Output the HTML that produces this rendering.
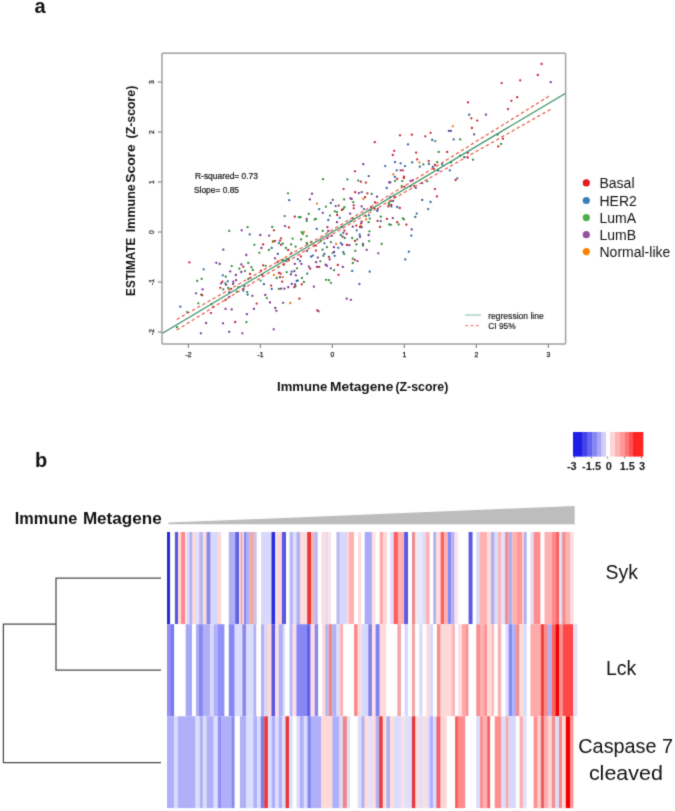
<!DOCTYPE html><html><head><meta charset="utf-8"><style>html,body{margin:0;padding:0;background:#fff;}svg{display:block;}</style></head><body><svg width="675" height="811" viewBox="0 0 675 811" font-family='"Liberation Sans", sans-serif'>
<defs><filter id="bl" x="0" y="0" width="1" height="1" color-interpolation-filters="sRGB"><feConvolveMatrix order="3" kernelMatrix="0.0192 0.1001 0.0192 0.1001 0.5228 0.1001 0.0192 0.1001 0.0192" edgeMode="duplicate"/></filter></defs>
<g filter="url(#bl)">
<rect width="675" height="811" fill="#fff"/>
<text x="34.5" y="13" font-size="20" font-weight="bold" fill="#111">a</text>
<text x="35" y="467" font-size="20" font-weight="bold" fill="#111">b</text>
<circle cx="229.2" cy="230.9" r="1.15" fill="#2f8c38"/>
<circle cx="223.3" cy="249.7" r="1.15" fill="#76308e"/>
<circle cx="189.4" cy="262.4" r="1.15" fill="#c81e2a"/>
<circle cx="216.3" cy="262.8" r="1.15" fill="#76308e"/>
<circle cx="219.7" cy="263.9" r="1.15" fill="#76308e"/>
<circle cx="231.7" cy="266.1" r="1.15" fill="#2f8c38"/>
<circle cx="203.6" cy="269.3" r="1.15" fill="#2a62a0"/>
<circle cx="230.2" cy="271.4" r="1.15" fill="#76308e"/>
<circle cx="239.4" cy="268.7" r="1.15" fill="#2f8c38"/>
<circle cx="222.8" cy="275.3" r="1.15" fill="#2a62a0"/>
<circle cx="225.8" cy="276.7" r="1.15" fill="#2f8c38"/>
<circle cx="235.8" cy="275.0" r="1.15" fill="#76308e"/>
<circle cx="201.7" cy="278.9" r="1.15" fill="#2f8c38"/>
<circle cx="197.2" cy="280.9" r="1.15" fill="#2f8c38"/>
<circle cx="222.4" cy="281.7" r="1.15" fill="#c81e2a"/>
<circle cx="221.1" cy="283.3" r="1.15" fill="#76308e"/>
<circle cx="227.8" cy="281.3" r="1.15" fill="#2a62a0"/>
<circle cx="225.3" cy="283.3" r="1.15" fill="#2f8c38"/>
<circle cx="226.1" cy="284.8" r="1.15" fill="#76308e"/>
<circle cx="233.3" cy="281.7" r="1.15" fill="#76308e"/>
<circle cx="236.1" cy="280.2" r="1.15" fill="#76308e"/>
<circle cx="233.1" cy="283.9" r="1.15" fill="#76308e"/>
<circle cx="220.3" cy="287.8" r="1.15" fill="#c81e2a"/>
<circle cx="202.6" cy="289.4" r="1.15" fill="#76308e"/>
<circle cx="228.3" cy="288.0" r="1.15" fill="#2f8c38"/>
<circle cx="231.1" cy="288.9" r="1.15" fill="#c81e2a"/>
<circle cx="238.3" cy="287.2" r="1.15" fill="#2f8c38"/>
<circle cx="223.3" cy="289.4" r="1.15" fill="#2f8c38"/>
<circle cx="196.1" cy="293.3" r="1.15" fill="#76308e"/>
<circle cx="201.1" cy="294.7" r="1.15" fill="#2f8c38"/>
<circle cx="202.2" cy="295.2" r="1.15" fill="#c81e2a"/>
<circle cx="229.4" cy="292.2" r="1.15" fill="#76308e"/>
<circle cx="236.7" cy="291.7" r="1.15" fill="#2f8c38"/>
<circle cx="229.4" cy="296.9" r="1.15" fill="#76308e"/>
<circle cx="225.6" cy="299.8" r="1.15" fill="#c81e2a"/>
<circle cx="180.3" cy="306.7" r="1.15" fill="#2a62a0"/>
<circle cx="198.3" cy="303.3" r="1.15" fill="#2f8c38"/>
<circle cx="211.4" cy="304.2" r="1.15" fill="#2f8c38"/>
<circle cx="213.3" cy="306.9" r="1.15" fill="#c81e2a"/>
<circle cx="187.2" cy="312.2" r="1.15" fill="#2f8c38"/>
<circle cx="210.9" cy="313.1" r="1.15" fill="#c81e2a"/>
<circle cx="225.6" cy="308.9" r="1.15" fill="#76308e"/>
<circle cx="231.7" cy="309.4" r="1.15" fill="#76308e"/>
<circle cx="235.2" cy="322.0" r="1.15" fill="#c81e2a"/>
<circle cx="206.1" cy="323.0" r="1.15" fill="#76308e"/>
<circle cx="223.0" cy="323.3" r="1.15" fill="#76308e"/>
<circle cx="176.9" cy="327.2" r="1.15" fill="#2f8c38"/>
<circle cx="200.9" cy="333.3" r="1.15" fill="#76308e"/>
<circle cx="229.2" cy="331.8" r="1.15" fill="#76308e"/>
<circle cx="241.7" cy="230.3" r="1.15" fill="#76308e"/>
<circle cx="273.9" cy="230.3" r="1.15" fill="#c81e2a"/>
<circle cx="249.7" cy="234.4" r="1.15" fill="#2a62a0"/>
<circle cx="260.3" cy="235.0" r="1.15" fill="#76308e"/>
<circle cx="269.2" cy="235.6" r="1.15" fill="#76308e"/>
<circle cx="301.7" cy="232.2" r="1.15" fill="#2f8c38"/>
<circle cx="303.9" cy="232.0" r="1.15" fill="#ec7418"/>
<circle cx="302.8" cy="233.9" r="1.15" fill="#2f8c38"/>
<circle cx="306.7" cy="236.1" r="1.15" fill="#2f8c38"/>
<circle cx="281.1" cy="238.3" r="1.15" fill="#c81e2a"/>
<circle cx="280.0" cy="240.6" r="1.15" fill="#c81e2a"/>
<circle cx="272.8" cy="242.0" r="1.15" fill="#ec7418"/>
<circle cx="273.3" cy="241.1" r="1.15" fill="#2f8c38"/>
<circle cx="275.0" cy="241.1" r="1.15" fill="#c81e2a"/>
<circle cx="292.6" cy="238.7" r="1.15" fill="#2f8c38"/>
<circle cx="301.1" cy="239.4" r="1.15" fill="#2f8c38"/>
<circle cx="278.9" cy="243.1" r="1.15" fill="#2a62a0"/>
<circle cx="280.9" cy="244.8" r="1.15" fill="#c81e2a"/>
<circle cx="282.8" cy="243.7" r="1.15" fill="#2f8c38"/>
<circle cx="254.4" cy="244.8" r="1.15" fill="#2f8c38"/>
<circle cx="263.1" cy="244.4" r="1.15" fill="#c81e2a"/>
<circle cx="291.1" cy="244.4" r="1.15" fill="#2f8c38"/>
<circle cx="295.6" cy="246.7" r="1.15" fill="#2f8c38"/>
<circle cx="306.7" cy="242.8" r="1.15" fill="#2f8c38"/>
<circle cx="307.2" cy="244.2" r="1.15" fill="#2f8c38"/>
<circle cx="311.1" cy="242.0" r="1.15" fill="#2f8c38"/>
<circle cx="261.4" cy="248.0" r="1.15" fill="#76308e"/>
<circle cx="268.9" cy="250.0" r="1.15" fill="#2f8c38"/>
<circle cx="271.7" cy="248.0" r="1.15" fill="#2a62a0"/>
<circle cx="285.8" cy="248.0" r="1.15" fill="#2f8c38"/>
<circle cx="288.1" cy="250.0" r="1.15" fill="#c81e2a"/>
<circle cx="307.0" cy="250.8" r="1.15" fill="#76308e"/>
<circle cx="314.2" cy="245.6" r="1.15" fill="#c81e2a"/>
<circle cx="259.4" cy="252.8" r="1.15" fill="#2f8c38"/>
<circle cx="277.8" cy="253.9" r="1.15" fill="#2a62a0"/>
<circle cx="291.3" cy="253.1" r="1.15" fill="#c81e2a"/>
<circle cx="246.3" cy="255.0" r="1.15" fill="#76308e"/>
<circle cx="300.9" cy="256.4" r="1.15" fill="#c81e2a"/>
<circle cx="311.1" cy="256.7" r="1.15" fill="#2a62a0"/>
<circle cx="312.8" cy="255.6" r="1.15" fill="#2a62a0"/>
<circle cx="275.0" cy="258.3" r="1.15" fill="#76308e"/>
<circle cx="277.8" cy="261.7" r="1.15" fill="#c81e2a"/>
<circle cx="282.8" cy="260.0" r="1.15" fill="#2f8c38"/>
<circle cx="285.8" cy="261.1" r="1.15" fill="#2a62a0"/>
<circle cx="287.2" cy="259.1" r="1.15" fill="#2f8c38"/>
<circle cx="288.9" cy="259.8" r="1.15" fill="#c81e2a"/>
<circle cx="297.8" cy="259.1" r="1.15" fill="#76308e"/>
<circle cx="300.0" cy="261.1" r="1.15" fill="#2a62a0"/>
<circle cx="248.3" cy="263.0" r="1.15" fill="#2f8c38"/>
<circle cx="294.8" cy="263.9" r="1.15" fill="#76308e"/>
<circle cx="301.4" cy="263.9" r="1.15" fill="#76308e"/>
<circle cx="241.3" cy="264.4" r="1.15" fill="#76308e"/>
<circle cx="243.3" cy="266.7" r="1.15" fill="#c81e2a"/>
<circle cx="263.1" cy="265.3" r="1.15" fill="#c81e2a"/>
<circle cx="265.6" cy="265.8" r="1.15" fill="#2f8c38"/>
<circle cx="251.4" cy="267.2" r="1.15" fill="#2f8c38"/>
<circle cx="283.9" cy="264.7" r="1.15" fill="#c81e2a"/>
<circle cx="278.3" cy="267.2" r="1.15" fill="#2f8c38"/>
<circle cx="308.9" cy="266.7" r="1.15" fill="#76308e"/>
<circle cx="310.2" cy="268.7" r="1.15" fill="#c81e2a"/>
<circle cx="297.0" cy="268.3" r="1.15" fill="#2f8c38"/>
<circle cx="252.8" cy="270.0" r="1.15" fill="#2f8c38"/>
<circle cx="241.3" cy="272.0" r="1.15" fill="#76308e"/>
<circle cx="245.0" cy="271.1" r="1.15" fill="#2f8c38"/>
<circle cx="250.0" cy="273.9" r="1.15" fill="#c81e2a"/>
<circle cx="261.1" cy="270.6" r="1.15" fill="#c81e2a"/>
<circle cx="278.9" cy="272.8" r="1.15" fill="#c81e2a"/>
<circle cx="280.6" cy="273.7" r="1.15" fill="#c81e2a"/>
<circle cx="273.9" cy="275.0" r="1.15" fill="#ec7418"/>
<circle cx="286.7" cy="272.2" r="1.15" fill="#2f8c38"/>
<circle cx="291.7" cy="271.7" r="1.15" fill="#2a62a0"/>
<circle cx="294.4" cy="271.1" r="1.15" fill="#76308e"/>
<circle cx="290.9" cy="274.4" r="1.15" fill="#76308e"/>
<circle cx="295.9" cy="275.3" r="1.15" fill="#76308e"/>
<circle cx="307.2" cy="273.7" r="1.15" fill="#2f8c38"/>
<circle cx="262.2" cy="275.0" r="1.15" fill="#c81e2a"/>
<circle cx="276.7" cy="278.0" r="1.15" fill="#2f8c38"/>
<circle cx="280.0" cy="277.2" r="1.15" fill="#76308e"/>
<circle cx="282.8" cy="277.2" r="1.15" fill="#ec7418"/>
<circle cx="250.6" cy="277.8" r="1.15" fill="#76308e"/>
<circle cx="248.3" cy="278.9" r="1.15" fill="#2f8c38"/>
<circle cx="260.6" cy="280.6" r="1.15" fill="#2f8c38"/>
<circle cx="282.2" cy="281.7" r="1.15" fill="#c81e2a"/>
<circle cx="302.0" cy="278.0" r="1.15" fill="#2f8c38"/>
<circle cx="296.7" cy="280.9" r="1.15" fill="#2a62a0"/>
<circle cx="297.8" cy="280.6" r="1.15" fill="#2a62a0"/>
<circle cx="303.9" cy="282.0" r="1.15" fill="#2f8c38"/>
<circle cx="263.9" cy="284.2" r="1.15" fill="#2a62a0"/>
<circle cx="291.7" cy="283.9" r="1.15" fill="#76308e"/>
<circle cx="271.1" cy="285.6" r="1.15" fill="#c81e2a"/>
<circle cx="295.0" cy="284.4" r="1.15" fill="#76308e"/>
<circle cx="301.7" cy="284.4" r="1.15" fill="#c81e2a"/>
<circle cx="295.6" cy="286.1" r="1.15" fill="#2f8c38"/>
<circle cx="294.4" cy="287.2" r="1.15" fill="#c81e2a"/>
<circle cx="288.3" cy="287.2" r="1.15" fill="#76308e"/>
<circle cx="244.4" cy="286.1" r="1.15" fill="#2a62a0"/>
<circle cx="284.4" cy="288.7" r="1.15" fill="#76308e"/>
<circle cx="281.1" cy="288.7" r="1.15" fill="#76308e"/>
<circle cx="278.9" cy="288.9" r="1.15" fill="#2f8c38"/>
<circle cx="271.7" cy="288.9" r="1.15" fill="#2a62a0"/>
<circle cx="313.9" cy="286.7" r="1.15" fill="#76308e"/>
<circle cx="243.3" cy="288.9" r="1.15" fill="#76308e"/>
<circle cx="243.3" cy="290.6" r="1.15" fill="#2a62a0"/>
<circle cx="247.2" cy="292.2" r="1.15" fill="#2f8c38"/>
<circle cx="247.6" cy="294.7" r="1.15" fill="#2a62a0"/>
<circle cx="252.4" cy="295.8" r="1.15" fill="#76308e"/>
<circle cx="265.3" cy="295.0" r="1.15" fill="#76308e"/>
<circle cx="266.9" cy="298.1" r="1.15" fill="#2f8c38"/>
<circle cx="299.4" cy="298.7" r="1.15" fill="#c81e2a"/>
<circle cx="256.7" cy="303.6" r="1.15" fill="#c81e2a"/>
<circle cx="270.0" cy="302.4" r="1.15" fill="#76308e"/>
<circle cx="283.1" cy="302.8" r="1.15" fill="#76308e"/>
<circle cx="290.3" cy="303.0" r="1.15" fill="#ec7418"/>
<circle cx="253.9" cy="308.9" r="1.15" fill="#76308e"/>
<circle cx="275.3" cy="308.0" r="1.15" fill="#76308e"/>
<circle cx="276.4" cy="310.8" r="1.15" fill="#76308e"/>
<circle cx="246.9" cy="314.2" r="1.15" fill="#76308e"/>
<circle cx="246.4" cy="322.2" r="1.15" fill="#2f8c38"/>
<circle cx="273.7" cy="329.3" r="1.15" fill="#76308e"/>
<circle cx="242.4" cy="333.3" r="1.15" fill="#76308e"/>
<circle cx="288.0" cy="193.3" r="1.15" fill="#2f8c38"/>
<circle cx="312.0" cy="193.7" r="1.15" fill="#76308e"/>
<circle cx="289.2" cy="200.2" r="1.15" fill="#2a62a0"/>
<circle cx="309.8" cy="199.4" r="1.15" fill="#76308e"/>
<circle cx="284.7" cy="216.1" r="1.15" fill="#2f8c38"/>
<circle cx="294.8" cy="216.7" r="1.15" fill="#c81e2a"/>
<circle cx="298.9" cy="217.2" r="1.15" fill="#2f8c38"/>
<circle cx="300.6" cy="217.2" r="1.15" fill="#2f8c38"/>
<circle cx="308.7" cy="213.9" r="1.15" fill="#2f8c38"/>
<circle cx="306.7" cy="218.9" r="1.15" fill="#76308e"/>
<circle cx="306.7" cy="221.1" r="1.15" fill="#2f8c38"/>
<circle cx="314.7" cy="219.4" r="1.15" fill="#2f8c38"/>
<circle cx="247.6" cy="227.2" r="1.15" fill="#2f8c38"/>
<circle cx="272.2" cy="226.9" r="1.15" fill="#2f8c38"/>
<circle cx="285.0" cy="226.1" r="1.15" fill="#76308e"/>
<circle cx="288.9" cy="227.4" r="1.15" fill="#c81e2a"/>
<circle cx="322.8" cy="230.9" r="1.15" fill="#2f8c38"/>
<circle cx="328.3" cy="230.9" r="1.15" fill="#76308e"/>
<circle cx="356.7" cy="230.3" r="1.15" fill="#2a62a0"/>
<circle cx="344.4" cy="230.6" r="1.15" fill="#c81e2a"/>
<circle cx="369.4" cy="231.3" r="1.15" fill="#2f8c38"/>
<circle cx="343.3" cy="232.8" r="1.15" fill="#2a62a0"/>
<circle cx="346.7" cy="233.9" r="1.15" fill="#c81e2a"/>
<circle cx="331.7" cy="235.8" r="1.15" fill="#76308e"/>
<circle cx="340.8" cy="235.0" r="1.15" fill="#2f8c38"/>
<circle cx="342.6" cy="236.7" r="1.15" fill="#76308e"/>
<circle cx="344.8" cy="238.0" r="1.15" fill="#2f8c38"/>
<circle cx="359.7" cy="234.7" r="1.15" fill="#2a62a0"/>
<circle cx="360.0" cy="236.9" r="1.15" fill="#76308e"/>
<circle cx="368.6" cy="235.0" r="1.15" fill="#76308e"/>
<circle cx="352.2" cy="238.0" r="1.15" fill="#2f8c38"/>
<circle cx="327.2" cy="238.0" r="1.15" fill="#76308e"/>
<circle cx="320.8" cy="241.1" r="1.15" fill="#2f8c38"/>
<circle cx="355.0" cy="240.9" r="1.15" fill="#c81e2a"/>
<circle cx="357.2" cy="239.4" r="1.15" fill="#2f8c38"/>
<circle cx="369.1" cy="241.1" r="1.15" fill="#2f8c38"/>
<circle cx="381.7" cy="243.9" r="1.15" fill="#2f8c38"/>
<circle cx="324.4" cy="243.3" r="1.15" fill="#2a62a0"/>
<circle cx="330.9" cy="242.2" r="1.15" fill="#2f8c38"/>
<circle cx="336.1" cy="243.9" r="1.15" fill="#ec7418"/>
<circle cx="340.8" cy="243.1" r="1.15" fill="#2a62a0"/>
<circle cx="342.2" cy="244.7" r="1.15" fill="#76308e"/>
<circle cx="347.0" cy="245.0" r="1.15" fill="#c81e2a"/>
<circle cx="349.4" cy="245.2" r="1.15" fill="#76308e"/>
<circle cx="356.4" cy="244.4" r="1.15" fill="#2f8c38"/>
<circle cx="363.0" cy="243.9" r="1.15" fill="#76308e"/>
<circle cx="363.0" cy="245.6" r="1.15" fill="#2f8c38"/>
<circle cx="315.9" cy="245.6" r="1.15" fill="#c81e2a"/>
<circle cx="327.0" cy="247.2" r="1.15" fill="#2f8c38"/>
<circle cx="333.9" cy="247.2" r="1.15" fill="#76308e"/>
<circle cx="338.3" cy="247.8" r="1.15" fill="#2a62a0"/>
<circle cx="315.9" cy="250.6" r="1.15" fill="#c81e2a"/>
<circle cx="322.6" cy="249.7" r="1.15" fill="#2f8c38"/>
<circle cx="355.3" cy="250.8" r="1.15" fill="#2f8c38"/>
<circle cx="366.7" cy="249.8" r="1.15" fill="#76308e"/>
<circle cx="378.3" cy="253.3" r="1.15" fill="#76308e"/>
<circle cx="332.6" cy="252.8" r="1.15" fill="#2f8c38"/>
<circle cx="334.1" cy="252.0" r="1.15" fill="#76308e"/>
<circle cx="343.3" cy="252.2" r="1.15" fill="#2a62a0"/>
<circle cx="344.1" cy="254.1" r="1.15" fill="#2f8c38"/>
<circle cx="324.4" cy="253.9" r="1.15" fill="#2a62a0"/>
<circle cx="323.3" cy="255.8" r="1.15" fill="#2f8c38"/>
<circle cx="334.7" cy="255.8" r="1.15" fill="#2a62a0"/>
<circle cx="328.9" cy="256.9" r="1.15" fill="#c81e2a"/>
<circle cx="329.7" cy="259.4" r="1.15" fill="#76308e"/>
<circle cx="317.8" cy="257.6" r="1.15" fill="#76308e"/>
<circle cx="352.8" cy="258.7" r="1.15" fill="#2f8c38"/>
<circle cx="354.8" cy="259.8" r="1.15" fill="#c81e2a"/>
<circle cx="357.4" cy="261.1" r="1.15" fill="#76308e"/>
<circle cx="316.1" cy="262.2" r="1.15" fill="#76308e"/>
<circle cx="320.3" cy="261.3" r="1.15" fill="#2f8c38"/>
<circle cx="352.8" cy="263.0" r="1.15" fill="#2f8c38"/>
<circle cx="325.6" cy="264.7" r="1.15" fill="#76308e"/>
<circle cx="327.0" cy="265.8" r="1.15" fill="#76308e"/>
<circle cx="337.8" cy="265.0" r="1.15" fill="#c81e2a"/>
<circle cx="342.8" cy="266.9" r="1.15" fill="#76308e"/>
<circle cx="317.0" cy="266.9" r="1.15" fill="#76308e"/>
<circle cx="319.2" cy="266.9" r="1.15" fill="#c81e2a"/>
<circle cx="330.8" cy="268.3" r="1.15" fill="#76308e"/>
<circle cx="334.1" cy="270.2" r="1.15" fill="#2f8c38"/>
<circle cx="352.2" cy="270.9" r="1.15" fill="#2a62a0"/>
<circle cx="369.7" cy="271.7" r="1.15" fill="#2a62a0"/>
<circle cx="338.6" cy="274.8" r="1.15" fill="#c81e2a"/>
<circle cx="326.1" cy="279.8" r="1.15" fill="#2f8c38"/>
<circle cx="328.9" cy="280.2" r="1.15" fill="#2f8c38"/>
<circle cx="330.9" cy="282.8" r="1.15" fill="#2f8c38"/>
<circle cx="359.4" cy="284.1" r="1.15" fill="#76308e"/>
<circle cx="355.0" cy="171.3" r="1.15" fill="#c81e2a"/>
<circle cx="368.7" cy="176.1" r="1.15" fill="#2a62a0"/>
<circle cx="323.0" cy="179.2" r="1.15" fill="#2f8c38"/>
<circle cx="347.4" cy="179.4" r="1.15" fill="#2f8c38"/>
<circle cx="358.1" cy="180.6" r="1.15" fill="#2f8c38"/>
<circle cx="360.8" cy="181.7" r="1.15" fill="#c81e2a"/>
<circle cx="365.9" cy="182.6" r="1.15" fill="#c81e2a"/>
<circle cx="389.2" cy="182.4" r="1.15" fill="#76308e"/>
<circle cx="386.7" cy="188.0" r="1.15" fill="#2a62a0"/>
<circle cx="343.6" cy="189.1" r="1.15" fill="#c81e2a"/>
<circle cx="355.2" cy="192.2" r="1.15" fill="#c81e2a"/>
<circle cx="358.9" cy="193.1" r="1.15" fill="#76308e"/>
<circle cx="361.7" cy="192.2" r="1.15" fill="#2a62a0"/>
<circle cx="367.4" cy="193.3" r="1.15" fill="#c81e2a"/>
<circle cx="371.7" cy="193.9" r="1.15" fill="#2f8c38"/>
<circle cx="377.0" cy="196.7" r="1.15" fill="#76308e"/>
<circle cx="365.0" cy="197.2" r="1.15" fill="#c81e2a"/>
<circle cx="363.3" cy="198.9" r="1.15" fill="#ec7418"/>
<circle cx="350.3" cy="198.3" r="1.15" fill="#76308e"/>
<circle cx="351.7" cy="198.9" r="1.15" fill="#76308e"/>
<circle cx="332.8" cy="199.8" r="1.15" fill="#76308e"/>
<circle cx="344.1" cy="199.4" r="1.15" fill="#2f8c38"/>
<circle cx="317.0" cy="203.6" r="1.15" fill="#ec7418"/>
<circle cx="330.8" cy="203.0" r="1.15" fill="#2a62a0"/>
<circle cx="353.3" cy="202.2" r="1.15" fill="#2f8c38"/>
<circle cx="375.0" cy="202.4" r="1.15" fill="#c81e2a"/>
<circle cx="388.9" cy="202.8" r="1.15" fill="#2f8c38"/>
<circle cx="388.9" cy="204.7" r="1.15" fill="#2f8c38"/>
<circle cx="388.3" cy="206.4" r="1.15" fill="#c81e2a"/>
<circle cx="353.7" cy="205.3" r="1.15" fill="#c81e2a"/>
<circle cx="353.7" cy="208.3" r="1.15" fill="#c81e2a"/>
<circle cx="325.9" cy="206.7" r="1.15" fill="#2f8c38"/>
<circle cx="335.6" cy="206.1" r="1.15" fill="#2a62a0"/>
<circle cx="338.7" cy="205.6" r="1.15" fill="#c81e2a"/>
<circle cx="344.4" cy="207.2" r="1.15" fill="#2f8c38"/>
<circle cx="343.3" cy="208.9" r="1.15" fill="#2f8c38"/>
<circle cx="341.9" cy="210.0" r="1.15" fill="#c81e2a"/>
<circle cx="361.7" cy="206.4" r="1.15" fill="#76308e"/>
<circle cx="371.1" cy="207.2" r="1.15" fill="#c81e2a"/>
<circle cx="374.4" cy="208.3" r="1.15" fill="#c81e2a"/>
<circle cx="363.9" cy="209.1" r="1.15" fill="#2a62a0"/>
<circle cx="370.6" cy="210.0" r="1.15" fill="#2a62a0"/>
<circle cx="377.8" cy="209.1" r="1.15" fill="#76308e"/>
<circle cx="377.2" cy="210.9" r="1.15" fill="#2a62a0"/>
<circle cx="319.2" cy="209.1" r="1.15" fill="#2a62a0"/>
<circle cx="322.8" cy="212.8" r="1.15" fill="#76308e"/>
<circle cx="334.8" cy="211.3" r="1.15" fill="#2f8c38"/>
<circle cx="337.0" cy="212.2" r="1.15" fill="#2f8c38"/>
<circle cx="337.2" cy="215.0" r="1.15" fill="#c81e2a"/>
<circle cx="350.2" cy="213.7" r="1.15" fill="#76308e"/>
<circle cx="368.9" cy="215.3" r="1.15" fill="#2a62a0"/>
<circle cx="380.8" cy="216.7" r="1.15" fill="#2f8c38"/>
<circle cx="365.9" cy="216.1" r="1.15" fill="#2f8c38"/>
<circle cx="366.1" cy="219.4" r="1.15" fill="#ec7418"/>
<circle cx="369.8" cy="218.6" r="1.15" fill="#2f8c38"/>
<circle cx="330.0" cy="215.6" r="1.15" fill="#2f8c38"/>
<circle cx="339.7" cy="217.8" r="1.15" fill="#2a62a0"/>
<circle cx="315.9" cy="218.9" r="1.15" fill="#2f8c38"/>
<circle cx="328.3" cy="220.0" r="1.15" fill="#2a62a0"/>
<circle cx="387.0" cy="218.9" r="1.15" fill="#c81e2a"/>
<circle cx="352.8" cy="218.3" r="1.15" fill="#2f8c38"/>
<circle cx="377.6" cy="220.9" r="1.15" fill="#c81e2a"/>
<circle cx="380.8" cy="221.1" r="1.15" fill="#2a62a0"/>
<circle cx="350.6" cy="221.3" r="1.15" fill="#2a62a0"/>
<circle cx="337.0" cy="222.2" r="1.15" fill="#76308e"/>
<circle cx="361.7" cy="221.7" r="1.15" fill="#c81e2a"/>
<circle cx="368.6" cy="222.2" r="1.15" fill="#2f8c38"/>
<circle cx="361.1" cy="223.3" r="1.15" fill="#76308e"/>
<circle cx="356.3" cy="225.6" r="1.15" fill="#c81e2a"/>
<circle cx="360.6" cy="225.6" r="1.15" fill="#ec7418"/>
<circle cx="361.7" cy="227.2" r="1.15" fill="#2a62a0"/>
<circle cx="360.0" cy="227.2" r="1.15" fill="#c81e2a"/>
<circle cx="380.0" cy="226.9" r="1.15" fill="#c81e2a"/>
<circle cx="352.8" cy="226.7" r="1.15" fill="#76308e"/>
<circle cx="327.4" cy="227.2" r="1.15" fill="#c81e2a"/>
<circle cx="341.7" cy="227.2" r="1.15" fill="#2a62a0"/>
<circle cx="316.7" cy="228.9" r="1.15" fill="#2a62a0"/>
<circle cx="389.2" cy="224.4" r="1.15" fill="#2f8c38"/>
<circle cx="346.7" cy="298.7" r="1.15" fill="#76308e"/>
<circle cx="350.9" cy="299.8" r="1.15" fill="#76308e"/>
<circle cx="317.2" cy="310.3" r="1.15" fill="#c81e2a"/>
<circle cx="318.6" cy="311.3" r="1.15" fill="#76308e"/>
<circle cx="374.8" cy="142.2" r="1.15" fill="#c81e2a"/>
<circle cx="363.3" cy="164.2" r="1.15" fill="#76308e"/>
<circle cx="385.2" cy="166.1" r="1.15" fill="#2a62a0"/>
<circle cx="396.7" cy="170.3" r="1.15" fill="#2a62a0"/>
<circle cx="400.6" cy="170.3" r="1.15" fill="#c81e2a"/>
<circle cx="402.8" cy="170.3" r="1.15" fill="#76308e"/>
<circle cx="438.3" cy="170.6" r="1.15" fill="#2a62a0"/>
<circle cx="449.8" cy="170.3" r="1.15" fill="#2a62a0"/>
<circle cx="393.3" cy="174.4" r="1.15" fill="#ec7418"/>
<circle cx="395.0" cy="176.9" r="1.15" fill="#2a62a0"/>
<circle cx="397.2" cy="178.9" r="1.15" fill="#c81e2a"/>
<circle cx="403.9" cy="176.7" r="1.15" fill="#c81e2a"/>
<circle cx="403.9" cy="178.0" r="1.15" fill="#c81e2a"/>
<circle cx="395.0" cy="180.9" r="1.15" fill="#2f8c38"/>
<circle cx="402.2" cy="181.1" r="1.15" fill="#2f8c38"/>
<circle cx="410.6" cy="180.9" r="1.15" fill="#76308e"/>
<circle cx="412.8" cy="180.2" r="1.15" fill="#76308e"/>
<circle cx="422.2" cy="183.1" r="1.15" fill="#76308e"/>
<circle cx="427.2" cy="181.3" r="1.15" fill="#2f8c38"/>
<circle cx="455.6" cy="180.0" r="1.15" fill="#c81e2a"/>
<circle cx="457.4" cy="178.3" r="1.15" fill="#2a62a0"/>
<circle cx="390.3" cy="182.4" r="1.15" fill="#76308e"/>
<circle cx="401.7" cy="186.1" r="1.15" fill="#2f8c38"/>
<circle cx="404.4" cy="186.7" r="1.15" fill="#c81e2a"/>
<circle cx="410.6" cy="186.1" r="1.15" fill="#76308e"/>
<circle cx="414.2" cy="186.1" r="1.15" fill="#c81e2a"/>
<circle cx="415.8" cy="187.8" r="1.15" fill="#76308e"/>
<circle cx="435.0" cy="189.1" r="1.15" fill="#c81e2a"/>
<circle cx="390.3" cy="197.2" r="1.15" fill="#2a62a0"/>
<circle cx="394.7" cy="196.9" r="1.15" fill="#c81e2a"/>
<circle cx="390.9" cy="201.1" r="1.15" fill="#2f8c38"/>
<circle cx="393.1" cy="200.9" r="1.15" fill="#76308e"/>
<circle cx="436.9" cy="196.4" r="1.15" fill="#c81e2a"/>
<circle cx="422.2" cy="200.0" r="1.15" fill="#2a62a0"/>
<circle cx="430.6" cy="202.0" r="1.15" fill="#2a62a0"/>
<circle cx="391.3" cy="205.0" r="1.15" fill="#c81e2a"/>
<circle cx="391.3" cy="206.4" r="1.15" fill="#2a62a0"/>
<circle cx="397.2" cy="207.0" r="1.15" fill="#2a62a0"/>
<circle cx="399.8" cy="208.0" r="1.15" fill="#c81e2a"/>
<circle cx="428.1" cy="209.1" r="1.15" fill="#2a62a0"/>
<circle cx="416.7" cy="213.6" r="1.15" fill="#2a62a0"/>
<circle cx="415.3" cy="216.9" r="1.15" fill="#2a62a0"/>
<circle cx="392.8" cy="218.1" r="1.15" fill="#76308e"/>
<circle cx="402.8" cy="218.3" r="1.15" fill="#2f8c38"/>
<circle cx="403.9" cy="219.4" r="1.15" fill="#2f8c38"/>
<circle cx="397.2" cy="222.2" r="1.15" fill="#c81e2a"/>
<circle cx="398.7" cy="224.4" r="1.15" fill="#2f8c38"/>
<circle cx="390.9" cy="224.8" r="1.15" fill="#2f8c38"/>
<circle cx="406.4" cy="224.7" r="1.15" fill="#c81e2a"/>
<circle cx="411.7" cy="229.4" r="1.15" fill="#76308e"/>
<circle cx="452.8" cy="126.3" r="1.15" fill="#ec7418"/>
<circle cx="448.9" cy="130.9" r="1.15" fill="#76308e"/>
<circle cx="450.9" cy="130.9" r="1.15" fill="#2a62a0"/>
<circle cx="400.0" cy="135.3" r="1.15" fill="#c81e2a"/>
<circle cx="411.9" cy="134.7" r="1.15" fill="#c81e2a"/>
<circle cx="425.3" cy="136.3" r="1.15" fill="#c81e2a"/>
<circle cx="430.6" cy="132.8" r="1.15" fill="#c81e2a"/>
<circle cx="432.2" cy="140.0" r="1.15" fill="#2a62a0"/>
<circle cx="435.3" cy="141.1" r="1.15" fill="#2f8c38"/>
<circle cx="453.7" cy="139.4" r="1.15" fill="#2a62a0"/>
<circle cx="460.2" cy="139.4" r="1.15" fill="#2f8c38"/>
<circle cx="408.0" cy="144.4" r="1.15" fill="#2a62a0"/>
<circle cx="394.2" cy="150.8" r="1.15" fill="#c81e2a"/>
<circle cx="392.8" cy="155.0" r="1.15" fill="#c81e2a"/>
<circle cx="416.1" cy="152.6" r="1.15" fill="#c81e2a"/>
<circle cx="438.7" cy="151.9" r="1.15" fill="#2f8c38"/>
<circle cx="447.2" cy="151.9" r="1.15" fill="#c81e2a"/>
<circle cx="417.2" cy="159.4" r="1.15" fill="#c81e2a"/>
<circle cx="419.4" cy="162.4" r="1.15" fill="#ec7418"/>
<circle cx="423.3" cy="164.4" r="1.15" fill="#2f8c38"/>
<circle cx="428.7" cy="161.1" r="1.15" fill="#c81e2a"/>
<circle cx="428.9" cy="163.9" r="1.15" fill="#2a62a0"/>
<circle cx="437.2" cy="162.2" r="1.15" fill="#2f8c38"/>
<circle cx="435.0" cy="165.0" r="1.15" fill="#c81e2a"/>
<circle cx="442.2" cy="164.4" r="1.15" fill="#2a62a0"/>
<circle cx="450.9" cy="162.4" r="1.15" fill="#2f8c38"/>
<circle cx="460.2" cy="155.6" r="1.15" fill="#2f8c38"/>
<circle cx="464.2" cy="157.2" r="1.15" fill="#2a62a0"/>
<circle cx="395.0" cy="162.2" r="1.15" fill="#2a62a0"/>
<circle cx="400.6" cy="163.3" r="1.15" fill="#2a62a0"/>
<circle cx="405.0" cy="166.1" r="1.15" fill="#2a62a0"/>
<circle cx="412.2" cy="162.4" r="1.15" fill="#2a62a0"/>
<circle cx="419.8" cy="166.7" r="1.15" fill="#2a62a0"/>
<circle cx="432.8" cy="166.9" r="1.15" fill="#2a62a0"/>
<circle cx="433.9" cy="168.9" r="1.15" fill="#c81e2a"/>
<circle cx="411.3" cy="235.6" r="1.15" fill="#2a62a0"/>
<circle cx="408.9" cy="251.7" r="1.15" fill="#2a62a0"/>
<circle cx="405.3" cy="259.4" r="1.15" fill="#2a62a0"/>
<circle cx="469.2" cy="114.7" r="1.15" fill="#2a62a0"/>
<circle cx="485.9" cy="114.7" r="1.15" fill="#76308e"/>
<circle cx="471.3" cy="118.3" r="1.15" fill="#c81e2a"/>
<circle cx="477.2" cy="120.6" r="1.15" fill="#c81e2a"/>
<circle cx="471.9" cy="128.0" r="1.15" fill="#c81e2a"/>
<circle cx="474.1" cy="134.4" r="1.15" fill="#76308e"/>
<circle cx="497.6" cy="134.7" r="1.15" fill="#2f8c38"/>
<circle cx="503.0" cy="138.7" r="1.15" fill="#c81e2a"/>
<circle cx="498.3" cy="146.4" r="1.15" fill="#c81e2a"/>
<circle cx="501.1" cy="143.9" r="1.15" fill="#2f8c38"/>
<circle cx="467.8" cy="152.8" r="1.15" fill="#c81e2a"/>
<circle cx="467.8" cy="157.6" r="1.15" fill="#c81e2a"/>
<circle cx="473.0" cy="159.7" r="1.15" fill="#2f8c38"/>
<circle cx="537.8" cy="75.0" r="1.15" fill="#c81e2a"/>
<circle cx="520.2" cy="80.3" r="1.15" fill="#c81e2a"/>
<circle cx="501.7" cy="83.1" r="1.15" fill="#c81e2a"/>
<circle cx="517.2" cy="97.2" r="1.15" fill="#c81e2a"/>
<circle cx="511.4" cy="100.8" r="1.15" fill="#c81e2a"/>
<circle cx="468.0" cy="102.4" r="1.15" fill="#c81e2a"/>
<circle cx="508.0" cy="109.1" r="1.15" fill="#c81e2a"/>
<circle cx="541.6" cy="64.0" r="1.15" fill="#c81e2a"/>
<circle cx="550.7" cy="82.2" r="1.15" fill="#76308e"/>
<line x1="162.5" y1="333.2" x2="565.7" y2="93.2" stroke="#2f8a5f" stroke-width="1.1"/>
<polyline points="176.7,319.5 186.1,314.1 195.4,308.8 204.8,303.5 214.1,298.2 223.5,292.9 232.8,287.5 242.2,282.2 251.6,276.8 260.9,271.5 270.3,266.1 279.6,260.7 289.0,255.3 298.3,249.8 307.7,244.4 317.1,238.9 326.4,233.3 335.8,227.8 345.1,222.2 354.5,216.5 363.9,210.9 373.2,205.2 382.6,199.4 391.9,193.7 401.3,187.9 410.6,182.2 420.0,176.4 429.4,170.6 438.7,164.8 448.1,159.0 457.4,153.2 466.8,147.4 476.1,141.5 485.5,135.7 494.9,129.9 504.2,124.1 513.6,118.2 522.9,112.4 532.3,106.6 541.6,100.7 551.0,94.9" fill="none" stroke="#e8523e" stroke-width="1.15" stroke-dasharray="3.4,2.5"/>
<polyline points="176.7,330.0 186.1,324.2 195.4,318.4 204.8,312.6 214.1,306.7 223.5,300.9 232.8,295.1 242.2,289.3 251.6,283.6 260.9,277.8 270.3,272.0 279.6,266.3 289.0,260.6 298.3,254.9 307.7,249.2 317.1,243.6 326.4,237.9 335.8,232.4 345.1,226.8 354.5,221.3 363.9,215.9 373.2,210.4 382.6,205.0 391.9,199.6 401.3,194.2 410.6,188.9 420.0,183.5 429.4,178.2 438.7,172.8 448.1,167.5 457.4,162.2 466.8,156.9 476.1,151.5 485.5,146.2 494.9,140.9 504.2,135.6 513.6,130.3 522.9,125.0 532.3,119.7 541.6,114.4 551.0,109.1" fill="none" stroke="#e8523e" stroke-width="1.15" stroke-dasharray="3.4,2.5"/>
<rect x="162" y="53.3" width="403.6" height="290.6" rx="0.8" fill="none" stroke="#a0a0a0" stroke-width="1.5"/>
<line x1="157.7" y1="332.0" x2="162" y2="332.0" stroke="#8a8a8a" stroke-width="1.2"/>
<text transform="translate(153.8,332.0) rotate(-90)" text-anchor="middle" font-size="6.8" fill="#1a1a1a" stroke="#1a1a1a" stroke-width="0.25">-2</text>
<line x1="157.7" y1="282.0" x2="162" y2="282.0" stroke="#8a8a8a" stroke-width="1.2"/>
<text transform="translate(153.8,282.0) rotate(-90)" text-anchor="middle" font-size="6.8" fill="#1a1a1a" stroke="#1a1a1a" stroke-width="0.25">-1</text>
<line x1="157.7" y1="232.0" x2="162" y2="232.0" stroke="#8a8a8a" stroke-width="1.2"/>
<text transform="translate(153.8,232.0) rotate(-90)" text-anchor="middle" font-size="6.8" fill="#1a1a1a" stroke="#1a1a1a" stroke-width="0.25">0</text>
<line x1="157.7" y1="182.0" x2="162" y2="182.0" stroke="#8a8a8a" stroke-width="1.2"/>
<text transform="translate(153.8,182.0) rotate(-90)" text-anchor="middle" font-size="6.8" fill="#1a1a1a" stroke="#1a1a1a" stroke-width="0.25">1</text>
<line x1="157.7" y1="132.0" x2="162" y2="132.0" stroke="#8a8a8a" stroke-width="1.2"/>
<text transform="translate(153.8,132.0) rotate(-90)" text-anchor="middle" font-size="6.8" fill="#1a1a1a" stroke="#1a1a1a" stroke-width="0.25">2</text>
<line x1="157.7" y1="82.0" x2="162" y2="82.0" stroke="#8a8a8a" stroke-width="1.2"/>
<text transform="translate(153.8,82.0) rotate(-90)" text-anchor="middle" font-size="6.8" fill="#1a1a1a" stroke="#1a1a1a" stroke-width="0.25">3</text>
<line x1="188.4" y1="344" x2="188.4" y2="347.9" stroke="#8a8a8a" stroke-width="1.2"/>
<text x="188.4" y="357.3" text-anchor="middle" font-size="6.8" fill="#1a1a1a" stroke="#1a1a1a" stroke-width="0.25">-2</text>
<line x1="260.4" y1="344" x2="260.4" y2="347.9" stroke="#8a8a8a" stroke-width="1.2"/>
<text x="260.4" y="357.3" text-anchor="middle" font-size="6.8" fill="#1a1a1a" stroke="#1a1a1a" stroke-width="0.25">-1</text>
<line x1="332.4" y1="344" x2="332.4" y2="347.9" stroke="#8a8a8a" stroke-width="1.2"/>
<text x="332.4" y="357.3" text-anchor="middle" font-size="6.8" fill="#1a1a1a" stroke="#1a1a1a" stroke-width="0.25">0</text>
<line x1="404.4" y1="344" x2="404.4" y2="347.9" stroke="#8a8a8a" stroke-width="1.2"/>
<text x="404.4" y="357.3" text-anchor="middle" font-size="6.8" fill="#1a1a1a" stroke="#1a1a1a" stroke-width="0.25">1</text>
<line x1="476.4" y1="344" x2="476.4" y2="347.9" stroke="#8a8a8a" stroke-width="1.2"/>
<text x="476.4" y="357.3" text-anchor="middle" font-size="6.8" fill="#1a1a1a" stroke="#1a1a1a" stroke-width="0.25">2</text>
<line x1="548.4" y1="344" x2="548.4" y2="347.9" stroke="#8a8a8a" stroke-width="1.2"/>
<text x="548.4" y="357.3" text-anchor="middle" font-size="6.8" fill="#1a1a1a" stroke="#1a1a1a" stroke-width="0.25">3</text>
<text x="277.0" y="390.9" font-size="13" font-weight="bold" fill="#111" textLength="50.2" lengthAdjust="spacingAndGlyphs">Immune</text>
<text x="330.1" y="390.9" font-size="13" font-weight="bold" fill="#111" textLength="63.3" lengthAdjust="spacingAndGlyphs">Metagene</text>
<text x="395.4" y="390.9" font-size="13" font-weight="bold" fill="#111" textLength="52.9" lengthAdjust="spacingAndGlyphs">(Z-score)</text>
<text transform="translate(135.4,0) rotate(-90)" x="-295.9" y="0" font-size="13" font-weight="bold" fill="#111" textLength="58.3" lengthAdjust="spacingAndGlyphs">ESTIMATE</text>
<text transform="translate(135.4,0) rotate(-90)" x="-232.2" y="0" font-size="13" font-weight="bold" fill="#111" textLength="47.9" lengthAdjust="spacingAndGlyphs">Immune</text>
<text transform="translate(135.4,0) rotate(-90)" x="-182.7" y="0" font-size="13" font-weight="bold" fill="#111" textLength="38.3" lengthAdjust="spacingAndGlyphs">Score</text>
<text transform="translate(135.4,0) rotate(-90)" x="-138.4" y="0" font-size="13" font-weight="bold" fill="#111" textLength="52.7" lengthAdjust="spacingAndGlyphs">(Z-score)</text>
<text x="195" y="178.7" font-size="8.5" fill="#111" stroke="#111" stroke-width="0.2" textLength="63" lengthAdjust="spacingAndGlyphs">R-squared= 0.73</text>
<text x="194" y="192.7" font-size="8.5" fill="#111" stroke="#111" stroke-width="0.2" textLength="45" lengthAdjust="spacingAndGlyphs">Slope= 0.85</text>
<line x1="465" y1="315" x2="481" y2="315" stroke="#8fcfb0" stroke-width="1.2"/>
<line x1="465" y1="325.6" x2="481" y2="325.6" stroke="#f08a80" stroke-width="1.2" stroke-dasharray="3,2.5"/>
<text x="488.2" y="318.8" font-size="8.5" fill="#111" stroke="#111" stroke-width="0.15" textLength="55.5" lengthAdjust="spacingAndGlyphs">regression line</text>
<text x="488.2" y="329" font-size="8.5" fill="#111" stroke="#111" stroke-width="0.15" textLength="27.5" lengthAdjust="spacingAndGlyphs">CI 95%</text>
<circle cx="586.3" cy="182.9" r="3.6" fill="#e41a1c"/>
<text x="599.5" y="188.1" font-size="14" fill="#111">Basal</text>
<circle cx="586.3" cy="200.5" r="3.6" fill="#377eb8"/>
<text x="599.5" y="205.7" font-size="14" fill="#111">HER2</text>
<circle cx="586.3" cy="217.6" r="3.6" fill="#4daf4a"/>
<text x="599.5" y="222.8" font-size="14" fill="#111">LumA</text>
<circle cx="586.3" cy="234.7" r="3.6" fill="#984ea3"/>
<text x="599.5" y="239.9" font-size="14" fill="#111">LumB</text>
<circle cx="586.3" cy="251.6" r="3.6" fill="#ff7f00"/>
<text x="599.5" y="256.8" font-size="14" fill="#111">Normal-like</text>
<text x="14.8" y="523.6" font-size="16" font-weight="bold" fill="#111" textLength="62.4" lengthAdjust="spacingAndGlyphs">Immune</text>
<text x="82.9" y="523.6" font-size="16" font-weight="bold" fill="#111" textLength="78.8" lengthAdjust="spacingAndGlyphs">Metagene</text>
<polygon points="168.5,522.6 574.7,506 574.7,524.2 168.5,524.2" fill="#bdbdbd"/>
<rect x="573" y="432" width="9.30" height="24.6" fill="#1e1ee6"/>
<rect x="582" y="432" width="5.30" height="24.6" fill="#4242ea"/>
<rect x="587" y="432" width="5.30" height="24.6" fill="#6464f0"/>
<rect x="592" y="432" width="5.30" height="24.6" fill="#8888f2"/>
<rect x="597" y="432" width="4.80" height="24.6" fill="#a8a8f6"/>
<rect x="601.5" y="432" width="4.80" height="24.6" fill="#cfcffa"/>
<rect x="606" y="432" width="4.30" height="24.6" fill="#ffffff"/>
<rect x="610" y="432" width="5.30" height="24.6" fill="#ffd4d4"/>
<rect x="615" y="432" width="5.30" height="24.6" fill="#ffb4b4"/>
<rect x="620" y="432" width="5.30" height="24.6" fill="#ff9898"/>
<rect x="625" y="432" width="4.30" height="24.6" fill="#ff7474"/>
<rect x="629" y="432" width="4.30" height="24.6" fill="#ff5050"/>
<rect x="633" y="432" width="10.30" height="24.6" fill="#ff2424"/>
<line x1="574.5" y1="456.5" x2="574.5" y2="458.5" stroke="#555" stroke-width="0.8"/>
<line x1="591.3" y1="456.5" x2="591.3" y2="458.5" stroke="#555" stroke-width="0.8"/>
<line x1="607.6" y1="456.5" x2="607.6" y2="458.5" stroke="#555" stroke-width="0.8"/>
<line x1="624.6" y1="456.5" x2="624.6" y2="458.5" stroke="#555" stroke-width="0.8"/>
<line x1="641.5" y1="456.5" x2="641.5" y2="458.5" stroke="#555" stroke-width="0.8"/>
<text x="571.8" y="470" text-anchor="middle" font-size="11" font-weight="bold" fill="#111">-3</text>
<text x="591.6" y="470" text-anchor="middle" font-size="11" font-weight="bold" fill="#111">-1.5</text>
<text x="608.7" y="470" text-anchor="middle" font-size="11" font-weight="bold" fill="#111">0</text>
<text x="627.3" y="470" text-anchor="middle" font-size="11" font-weight="bold" fill="#111">1.5</text>
<text x="642" y="470" text-anchor="middle" font-size="11" font-weight="bold" fill="#111">3</text>
<rect x="167.0" y="532" width="3.25" height="92.20" fill="#2a2ad8"/>
<rect x="170.2" y="532" width="4.75" height="92.20" fill="#ffffff"/>
<rect x="174.9" y="532" width="3.15" height="92.20" fill="#5a5ad8"/>
<rect x="178.0" y="532" width="3.15" height="92.20" fill="#ffd8d8"/>
<rect x="181.1" y="532" width="4.15" height="92.20" fill="#ff8888"/>
<rect x="185.2" y="532" width="1.65" height="92.20" fill="#ffe4e4"/>
<rect x="186.8" y="532" width="2.65" height="92.20" fill="#d8d8ff"/>
<rect x="189.4" y="532" width="3.15" height="92.20" fill="#b0b0f0"/>
<rect x="192.5" y="532" width="3.65" height="92.20" fill="#ffd8d8"/>
<rect x="196.1" y="532" width="3.15" height="92.20" fill="#e0e0ff"/>
<rect x="199.2" y="532" width="3.75" height="92.20" fill="#b8b8f0"/>
<rect x="202.9" y="532" width="3.65" height="92.20" fill="#ffdada"/>
<rect x="206.5" y="532" width="4.15" height="92.20" fill="#8888e8"/>
<rect x="210.6" y="532" width="7.35" height="92.20" fill="#d8d8fc"/>
<rect x="217.9" y="532" width="3.15" height="92.20" fill="#ffd8d8"/>
<rect x="221.0" y="532" width="7.85" height="92.20" fill="#ffffff"/>
<rect x="228.8" y="532" width="6.45" height="92.20" fill="#b0b0f4"/>
<rect x="235.2" y="532" width="3.95" height="92.20" fill="#6060e0"/>
<rect x="239.1" y="532" width="1.35" height="92.20" fill="#ffdcdc"/>
<rect x="240.4" y="532" width="2.35" height="92.20" fill="#f0a8b0"/>
<rect x="242.7" y="532" width="1.35" height="92.20" fill="#e8e0f8"/>
<rect x="244.0" y="532" width="2.65" height="92.20" fill="#8888f0"/>
<rect x="246.6" y="532" width="3.15" height="92.20" fill="#b0b0f0"/>
<rect x="249.7" y="532" width="4.75" height="92.20" fill="#f4a8a8"/>
<rect x="254.4" y="532" width="2.45" height="92.20" fill="#c0c0f0"/>
<rect x="256.8" y="532" width="4.35" height="92.20" fill="#ffffff"/>
<rect x="261.1" y="532" width="10.45" height="92.20" fill="#d8d8fc"/>
<rect x="271.5" y="532" width="3.65" height="92.20" fill="#2a2ae0"/>
<rect x="275.1" y="532" width="1.65" height="92.20" fill="#e0e0fc"/>
<rect x="276.7" y="532" width="5.25" height="92.20" fill="#ffd8d8"/>
<rect x="281.9" y="532" width="4.15" height="92.20" fill="#5858e0"/>
<rect x="286.0" y="532" width="3.65" height="92.20" fill="#ffffff"/>
<rect x="289.6" y="532" width="3.75" height="92.20" fill="#b8b8f0"/>
<rect x="293.3" y="532" width="3.15" height="92.20" fill="#e0e0fc"/>
<rect x="296.4" y="532" width="3.65" height="92.20" fill="#b0b0f0"/>
<rect x="300.0" y="532" width="7.25" height="92.20" fill="#ffdcdc"/>
<rect x="307.2" y="532" width="3.95" height="92.20" fill="#e83838"/>
<rect x="311.1" y="532" width="3.15" height="92.20" fill="#ffb0b0"/>
<rect x="314.2" y="532" width="3.65" height="92.20" fill="#b8b8f0"/>
<rect x="317.8" y="532" width="3.65" height="92.20" fill="#ffffff"/>
<rect x="321.4" y="532" width="4.25" height="92.20" fill="#ffdcdc"/>
<rect x="325.6" y="532" width="2.65" height="92.20" fill="#dcdcf8"/>
<rect x="328.2" y="532" width="3.15" height="92.20" fill="#ffe0e0"/>
<rect x="331.3" y="532" width="5.25" height="92.20" fill="#ffffff"/>
<rect x="336.5" y="532" width="3.35" height="92.20" fill="#b8b8f4"/>
<rect x="339.8" y="532" width="7.15" height="92.20" fill="#d8d8fc"/>
<rect x="346.9" y="532" width="2.05" height="92.20" fill="#ffd8d8"/>
<rect x="348.9" y="532" width="5.25" height="92.20" fill="#ffb0b0"/>
<rect x="354.1" y="532" width="3.65" height="92.20" fill="#ffffff"/>
<rect x="357.7" y="532" width="3.75" height="92.20" fill="#ffdcdc"/>
<rect x="361.4" y="532" width="3.35" height="92.20" fill="#ffffff"/>
<rect x="364.7" y="532" width="7.25" height="92.20" fill="#aaaaf8"/>
<rect x="371.9" y="532" width="3.75" height="92.20" fill="#ffe0e0"/>
<rect x="375.6" y="532" width="4.15" height="92.20" fill="#ffffff"/>
<rect x="379.7" y="532" width="3.65" height="92.20" fill="#ffaaaa"/>
<rect x="383.3" y="532" width="3.75" height="92.20" fill="#ffd8d8"/>
<rect x="387.0" y="532" width="3.15" height="92.20" fill="#ffffff"/>
<rect x="390.1" y="532" width="3.65" height="92.20" fill="#e0e0fc"/>
<rect x="393.7" y="532" width="4.25" height="92.20" fill="#ff5c5c"/>
<rect x="397.9" y="532" width="6.25" height="92.20" fill="#ffb0b0"/>
<rect x="404.1" y="532" width="4.15" height="92.20" fill="#5a5ae8"/>
<rect x="408.2" y="532" width="3.75" height="92.20" fill="#ffffff"/>
<rect x="411.9" y="532" width="3.15" height="92.20" fill="#e89090"/>
<rect x="415.0" y="532" width="1.55" height="92.20" fill="#ffdcdc"/>
<rect x="416.5" y="532" width="5.75" height="92.20" fill="#e8e8fc"/>
<rect x="422.2" y="532" width="3.75" height="92.20" fill="#dcdcf8"/>
<rect x="425.9" y="532" width="3.85" height="92.20" fill="#ffb0b0"/>
<rect x="429.7" y="532" width="3.65" height="92.20" fill="#ffffff"/>
<rect x="433.3" y="532" width="3.15" height="92.20" fill="#b0b0f0"/>
<rect x="436.4" y="532" width="4.25" height="92.20" fill="#ffdcdc"/>
<rect x="440.6" y="532" width="3.65" height="92.20" fill="#ff6060"/>
<rect x="444.2" y="532" width="3.65" height="92.20" fill="#ffb0b0"/>
<rect x="447.8" y="532" width="3.65" height="92.20" fill="#8888f8"/>
<rect x="451.4" y="532" width="3.25" height="92.20" fill="#b0b0f4"/>
<rect x="454.6" y="532" width="3.65" height="92.20" fill="#ffe0e8"/>
<rect x="458.2" y="532" width="10.45" height="92.20" fill="#ffffff"/>
<rect x="468.6" y="532" width="4.15" height="92.20" fill="#5858e4"/>
<rect x="472.7" y="532" width="3.65" height="92.20" fill="#ffffff"/>
<rect x="476.3" y="532" width="3.75" height="92.20" fill="#d8d8f8"/>
<rect x="480.0" y="532" width="7.25" height="92.20" fill="#ffb0b0"/>
<rect x="487.2" y="532" width="3.75" height="92.20" fill="#ffdcdc"/>
<rect x="490.9" y="532" width="3.85" height="92.20" fill="#b0b0f0"/>
<rect x="494.7" y="532" width="3.15" height="92.20" fill="#dcdcfc"/>
<rect x="497.8" y="532" width="3.65" height="92.20" fill="#f8b8b8"/>
<rect x="501.4" y="532" width="3.65" height="92.20" fill="#e0e0fc"/>
<rect x="505.0" y="532" width="3.75" height="92.20" fill="#f09090"/>
<rect x="508.7" y="532" width="3.65" height="92.20" fill="#b0b0f0"/>
<rect x="512.3" y="532" width="4.15" height="92.20" fill="#ffb0b0"/>
<rect x="516.4" y="532" width="5.75" height="92.20" fill="#ff9898"/>
<rect x="522.1" y="532" width="1.65" height="92.20" fill="#ffd0d0"/>
<rect x="523.7" y="532" width="3.15" height="92.20" fill="#b0b0f0"/>
<rect x="526.8" y="532" width="3.65" height="92.20" fill="#ffffff"/>
<rect x="530.4" y="532" width="3.25" height="92.20" fill="#e0dcf8"/>
<rect x="533.6" y="532" width="7.05" height="92.20" fill="#ff8c8c"/>
<rect x="540.6" y="532" width="3.95" height="92.20" fill="#ffffff"/>
<rect x="544.5" y="532" width="7.35" height="92.20" fill="#ffb0b0"/>
<rect x="551.8" y="532" width="3.65" height="92.20" fill="#ff8888"/>
<rect x="555.4" y="532" width="3.65" height="92.20" fill="#ff6060"/>
<rect x="559.0" y="532" width="3.15" height="92.20" fill="#e0e0f4"/>
<rect x="562.1" y="532" width="3.75" height="92.20" fill="#f09090"/>
<rect x="565.8" y="532" width="4.25" height="92.20" fill="#ffb0b0"/>
<rect x="570.0" y="532" width="3.65" height="92.20" fill="#ffdcdc"/>
<rect x="167.0" y="624.2" width="3.25" height="92.10" fill="#9090f0"/>
<rect x="170.2" y="624.2" width="4.15" height="92.10" fill="#7878f0"/>
<rect x="174.3" y="624.2" width="11.45" height="92.10" fill="#ffffff"/>
<rect x="185.7" y="624.2" width="6.35" height="92.10" fill="#a8a8f8"/>
<rect x="192.0" y="624.2" width="4.15" height="92.10" fill="#ffffff"/>
<rect x="196.1" y="624.2" width="2.65" height="92.10" fill="#a8a8f0"/>
<rect x="198.7" y="624.2" width="4.25" height="92.10" fill="#8888f0"/>
<rect x="202.9" y="624.2" width="7.25" height="92.10" fill="#b0b0f8"/>
<rect x="210.1" y="624.2" width="3.65" height="92.10" fill="#d8d8fc"/>
<rect x="213.7" y="624.2" width="3.75" height="92.10" fill="#b0b0f8"/>
<rect x="217.4" y="624.2" width="7.25" height="92.10" fill="#9090f8"/>
<rect x="224.6" y="624.2" width="4.25" height="92.10" fill="#ffffff"/>
<rect x="228.8" y="624.2" width="5.95" height="92.10" fill="#8888f0"/>
<rect x="234.7" y="624.2" width="7.75" height="92.10" fill="#dcdcfc"/>
<rect x="242.4" y="624.2" width="3.75" height="92.10" fill="#8888f0"/>
<rect x="246.1" y="624.2" width="7.25" height="92.10" fill="#dcdcfc"/>
<rect x="253.3" y="624.2" width="3.15" height="92.10" fill="#b0b0f4"/>
<rect x="256.4" y="624.2" width="4.75" height="92.10" fill="#ffffff"/>
<rect x="261.1" y="624.2" width="3.15" height="92.10" fill="#b0b0f4"/>
<rect x="264.2" y="624.2" width="3.75" height="92.10" fill="#d8d8fc"/>
<rect x="267.9" y="624.2" width="3.65" height="92.10" fill="#ffd8d8"/>
<rect x="271.5" y="624.2" width="3.65" height="92.10" fill="#5858e0"/>
<rect x="275.1" y="624.2" width="3.65" height="92.10" fill="#ffdcec"/>
<rect x="278.7" y="624.2" width="4.25" height="92.10" fill="#b0b0f4"/>
<rect x="282.9" y="624.2" width="2.15" height="92.10" fill="#dcdcfc"/>
<rect x="285.0" y="624.2" width="4.65" height="92.10" fill="#ffffff"/>
<rect x="289.6" y="624.2" width="3.15" height="92.10" fill="#b8b8f4"/>
<rect x="292.7" y="624.2" width="3.75" height="92.10" fill="#ffdce8"/>
<rect x="296.4" y="624.2" width="10.55" height="92.10" fill="#8888f4"/>
<rect x="306.9" y="624.2" width="3.75" height="92.10" fill="#6060f0"/>
<rect x="310.6" y="624.2" width="4.15" height="92.10" fill="#ffdce8"/>
<rect x="314.7" y="624.2" width="3.65" height="92.10" fill="#8888e8"/>
<rect x="318.3" y="624.2" width="3.75" height="92.10" fill="#ffffff"/>
<rect x="322.0" y="624.2" width="3.15" height="92.10" fill="#ffdcdc"/>
<rect x="325.1" y="624.2" width="3.65" height="92.10" fill="#b8b8f0"/>
<rect x="328.7" y="624.2" width="3.65" height="92.10" fill="#f08888"/>
<rect x="332.3" y="624.2" width="4.25" height="92.10" fill="#b0b0f8"/>
<rect x="336.5" y="624.2" width="3.65" height="92.10" fill="#dcdcfc"/>
<rect x="340.1" y="624.2" width="3.15" height="92.10" fill="#ffb0b0"/>
<rect x="343.2" y="624.2" width="10.95" height="92.10" fill="#ffffff"/>
<rect x="354.1" y="624.2" width="3.65" height="92.10" fill="#f88888"/>
<rect x="357.7" y="624.2" width="3.75" height="92.10" fill="#ffdcdc"/>
<rect x="361.4" y="624.2" width="6.95" height="92.10" fill="#d4dafc"/>
<rect x="368.3" y="624.2" width="3.65" height="92.10" fill="#8080e8"/>
<rect x="371.9" y="624.2" width="3.75" height="92.10" fill="#ffe0e8"/>
<rect x="375.6" y="624.2" width="4.15" height="92.10" fill="#8080f0"/>
<rect x="379.7" y="624.2" width="6.75" height="92.10" fill="#ffd8d8"/>
<rect x="386.4" y="624.2" width="10.95" height="92.10" fill="#ffffff"/>
<rect x="397.3" y="624.2" width="3.75" height="92.10" fill="#f4a8a8"/>
<rect x="401.0" y="624.2" width="3.65" height="92.10" fill="#ffffff"/>
<rect x="404.6" y="624.2" width="3.65" height="92.10" fill="#d8d8fc"/>
<rect x="408.2" y="624.2" width="3.75" height="92.10" fill="#ffffff"/>
<rect x="411.9" y="624.2" width="3.15" height="92.10" fill="#f0a8a8"/>
<rect x="415.0" y="624.2" width="4.15" height="92.10" fill="#ffffff"/>
<rect x="419.1" y="624.2" width="3.65" height="92.10" fill="#dcdcfc"/>
<rect x="422.7" y="624.2" width="3.75" height="92.10" fill="#ffffff"/>
<rect x="426.4" y="624.2" width="3.35" height="92.10" fill="#ffd8d8"/>
<rect x="429.7" y="624.2" width="3.65" height="92.10" fill="#d8d8fc"/>
<rect x="433.3" y="624.2" width="3.65" height="92.10" fill="#ffffff"/>
<rect x="436.9" y="624.2" width="3.75" height="92.10" fill="#f89090"/>
<rect x="440.6" y="624.2" width="10.85" height="92.10" fill="#ffd8d8"/>
<rect x="451.4" y="624.2" width="3.75" height="92.10" fill="#f8b8b8"/>
<rect x="455.1" y="624.2" width="3.15" height="92.10" fill="#ffffff"/>
<rect x="458.2" y="624.2" width="3.65" height="92.10" fill="#ffdce4"/>
<rect x="461.8" y="624.2" width="3.65" height="92.10" fill="#ffa8a8"/>
<rect x="465.4" y="624.2" width="3.25" height="92.10" fill="#ff9090"/>
<rect x="468.6" y="624.2" width="7.75" height="92.10" fill="#ffffff"/>
<rect x="476.3" y="624.2" width="3.75" height="92.10" fill="#f89090"/>
<rect x="480.0" y="624.2" width="4.15" height="92.10" fill="#ffb0b0"/>
<rect x="484.1" y="624.2" width="3.15" height="92.10" fill="#ff9090"/>
<rect x="487.2" y="624.2" width="4.25" height="92.10" fill="#ffdcdc"/>
<rect x="491.4" y="624.2" width="2.75" height="92.10" fill="#ffb8b8"/>
<rect x="494.1" y="624.2" width="3.75" height="92.10" fill="#ffffff"/>
<rect x="497.8" y="624.2" width="3.65" height="92.10" fill="#f8b0b0"/>
<rect x="501.4" y="624.2" width="4.25" height="92.10" fill="#ffffff"/>
<rect x="505.6" y="624.2" width="3.15" height="92.10" fill="#dcdcfc"/>
<rect x="508.7" y="624.2" width="3.65" height="92.10" fill="#8888f4"/>
<rect x="512.3" y="624.2" width="3.65" height="92.10" fill="#b0b0f8"/>
<rect x="515.9" y="624.2" width="3.75" height="92.10" fill="#f09090"/>
<rect x="519.6" y="624.2" width="3.65" height="92.10" fill="#ffdcdc"/>
<rect x="523.2" y="624.2" width="3.65" height="92.10" fill="#d4dcf8"/>
<rect x="526.8" y="624.2" width="3.65" height="92.10" fill="#ffffff"/>
<rect x="530.4" y="624.2" width="10.45" height="92.10" fill="#ffaaaa"/>
<rect x="540.8" y="624.2" width="3.75" height="92.10" fill="#f04444"/>
<rect x="544.5" y="624.2" width="3.65" height="92.10" fill="#ff8a8a"/>
<rect x="548.1" y="624.2" width="3.75" height="92.10" fill="#b0b0f0"/>
<rect x="551.8" y="624.2" width="3.65" height="92.10" fill="#ff6060"/>
<rect x="555.4" y="624.2" width="3.65" height="92.10" fill="#f00000"/>
<rect x="559.0" y="624.2" width="3.75" height="92.10" fill="#ff9090"/>
<rect x="562.7" y="624.2" width="10.35" height="92.10" fill="#ff4848"/>
<rect x="573.0" y="624.2" width="1.65" height="92.10" fill="#ffd0d8"/>
<rect x="574.6" y="624.2" width="2.65" height="92.10" fill="#dce0fc"/>
<rect x="167.0" y="716.3" width="7.35" height="91.80" fill="#b0b0f8"/>
<rect x="174.3" y="716.3" width="3.75" height="91.80" fill="#d8d8fc"/>
<rect x="178.0" y="716.3" width="17.65" height="91.80" fill="#b0b0f8"/>
<rect x="195.6" y="716.3" width="4.15" height="91.80" fill="#dcdcfc"/>
<rect x="199.7" y="716.3" width="3.25" height="91.80" fill="#b0b0f4"/>
<rect x="202.9" y="716.3" width="3.65" height="91.80" fill="#dcdcfc"/>
<rect x="206.5" y="716.3" width="7.25" height="91.80" fill="#b0b0f8"/>
<rect x="213.7" y="716.3" width="4.25" height="91.80" fill="#dcdcfc"/>
<rect x="217.9" y="716.3" width="3.15" height="91.80" fill="#9090f4"/>
<rect x="221.0" y="716.3" width="10.45" height="91.80" fill="#b0b0f8"/>
<rect x="231.4" y="716.3" width="3.35" height="91.80" fill="#8888f0"/>
<rect x="234.7" y="716.3" width="5.25" height="91.80" fill="#ffffff"/>
<rect x="239.9" y="716.3" width="6.25" height="91.80" fill="#b0b0f8"/>
<rect x="246.1" y="716.3" width="7.25" height="91.80" fill="#dcdcfc"/>
<rect x="253.3" y="716.3" width="3.75" height="91.80" fill="#b0b0f8"/>
<rect x="257.0" y="716.3" width="3.65" height="91.80" fill="#dcdcfc"/>
<rect x="260.6" y="716.3" width="3.65" height="91.80" fill="#8080e8"/>
<rect x="264.2" y="716.3" width="3.75" height="91.80" fill="#e83838"/>
<rect x="267.9" y="716.3" width="3.65" height="91.80" fill="#dcdcfc"/>
<rect x="271.5" y="716.3" width="3.65" height="91.80" fill="#b0b0f8"/>
<rect x="275.1" y="716.3" width="3.65" height="91.80" fill="#dcdcfc"/>
<rect x="278.7" y="716.3" width="3.75" height="91.80" fill="#b0b0f8"/>
<rect x="282.4" y="716.3" width="3.15" height="91.80" fill="#e0e0fc"/>
<rect x="285.5" y="716.3" width="3.65" height="91.80" fill="#e83838"/>
<rect x="289.1" y="716.3" width="3.65" height="91.80" fill="#dcdcfc"/>
<rect x="292.7" y="716.3" width="3.85" height="91.80" fill="#ffffff"/>
<rect x="296.5" y="716.3" width="3.25" height="91.80" fill="#dcdcfc"/>
<rect x="299.7" y="716.3" width="4.15" height="91.80" fill="#b0b0f8"/>
<rect x="303.8" y="716.3" width="3.65" height="91.80" fill="#dcdcfc"/>
<rect x="307.4" y="716.3" width="3.75" height="91.80" fill="#8888f4"/>
<rect x="311.1" y="716.3" width="10.35" height="91.80" fill="#b0b0f8"/>
<rect x="321.4" y="716.3" width="10.95" height="91.80" fill="#ffd8d8"/>
<rect x="332.3" y="716.3" width="7.35" height="91.80" fill="#b0b0f8"/>
<rect x="339.6" y="716.3" width="3.15" height="91.80" fill="#dcdcfc"/>
<rect x="342.7" y="716.3" width="4.25" height="91.80" fill="#f08888"/>
<rect x="346.9" y="716.3" width="3.15" height="91.80" fill="#e0e0fc"/>
<rect x="350.0" y="716.3" width="7.75" height="91.80" fill="#ffffff"/>
<rect x="357.7" y="716.3" width="3.75" height="91.80" fill="#dcdcfc"/>
<rect x="361.4" y="716.3" width="3.35" height="91.80" fill="#b0b0f0"/>
<rect x="364.7" y="716.3" width="3.65" height="91.80" fill="#ffdcdc"/>
<rect x="368.3" y="716.3" width="3.65" height="91.80" fill="#e0e0fc"/>
<rect x="371.9" y="716.3" width="3.75" height="91.80" fill="#ffdce0"/>
<rect x="375.6" y="716.3" width="3.65" height="91.80" fill="#b0b0f0"/>
<rect x="379.2" y="716.3" width="3.65" height="91.80" fill="#e83838"/>
<rect x="382.8" y="716.3" width="3.65" height="91.80" fill="#ffdcdc"/>
<rect x="386.4" y="716.3" width="3.75" height="91.80" fill="#b0b0f0"/>
<rect x="390.1" y="716.3" width="3.65" height="91.80" fill="#ffdcdc"/>
<rect x="393.7" y="716.3" width="7.85" height="91.80" fill="#dcdcfc"/>
<rect x="401.5" y="716.3" width="3.15" height="91.80" fill="#ffdce4"/>
<rect x="404.6" y="716.3" width="7.35" height="91.80" fill="#dce0fc"/>
<rect x="411.9" y="716.3" width="3.65" height="91.80" fill="#e83838"/>
<rect x="415.5" y="716.3" width="3.65" height="91.80" fill="#ffdcdc"/>
<rect x="419.1" y="716.3" width="3.65" height="91.80" fill="#dce0fc"/>
<rect x="422.7" y="716.3" width="3.85" height="91.80" fill="#ffdcdc"/>
<rect x="426.5" y="716.3" width="3.25" height="91.80" fill="#dcdcfc"/>
<rect x="429.7" y="716.3" width="3.65" height="91.80" fill="#b0b0f8"/>
<rect x="433.3" y="716.3" width="3.15" height="91.80" fill="#dcdcfc"/>
<rect x="436.4" y="716.3" width="4.25" height="91.80" fill="#f06070"/>
<rect x="440.6" y="716.3" width="6.25" height="91.80" fill="#ffd4d4"/>
<rect x="446.8" y="716.3" width="8.35" height="91.80" fill="#ffffff"/>
<rect x="455.1" y="716.3" width="3.65" height="91.80" fill="#f86060"/>
<rect x="458.7" y="716.3" width="6.75" height="91.80" fill="#ff8c8c"/>
<rect x="465.4" y="716.3" width="10.95" height="91.80" fill="#ffffff"/>
<rect x="476.3" y="716.3" width="3.75" height="91.80" fill="#dcdcfc"/>
<rect x="480.0" y="716.3" width="3.65" height="91.80" fill="#ff9090"/>
<rect x="483.6" y="716.3" width="3.65" height="91.80" fill="#ffb0b0"/>
<rect x="487.2" y="716.3" width="3.15" height="91.80" fill="#f86060"/>
<rect x="490.3" y="716.3" width="4.45" height="91.80" fill="#ffffff"/>
<rect x="494.7" y="716.3" width="6.75" height="91.80" fill="#ff9090"/>
<rect x="501.4" y="716.3" width="4.25" height="91.80" fill="#dcdcfc"/>
<rect x="505.6" y="716.3" width="3.15" height="91.80" fill="#f4acac"/>
<rect x="508.7" y="716.3" width="7.25" height="91.80" fill="#d8d8fc"/>
<rect x="515.9" y="716.3" width="3.75" height="91.80" fill="#ffffff"/>
<rect x="519.6" y="716.3" width="3.65" height="91.80" fill="#f8b0b0"/>
<rect x="523.2" y="716.3" width="3.65" height="91.80" fill="#e0e0fc"/>
<rect x="526.8" y="716.3" width="6.85" height="91.80" fill="#ffffff"/>
<rect x="533.6" y="716.3" width="4.15" height="91.80" fill="#ff9090"/>
<rect x="537.7" y="716.3" width="3.15" height="91.80" fill="#ffd0d0"/>
<rect x="540.8" y="716.3" width="3.75" height="91.80" fill="#f06060"/>
<rect x="544.5" y="716.3" width="3.65" height="91.80" fill="#ffb0b0"/>
<rect x="548.1" y="716.3" width="3.75" height="91.80" fill="#ffd4d4"/>
<rect x="551.8" y="716.3" width="3.65" height="91.80" fill="#f09090"/>
<rect x="555.4" y="716.3" width="3.65" height="91.80" fill="#dcdcfc"/>
<rect x="559.0" y="716.3" width="3.15" height="91.80" fill="#f08c8c"/>
<rect x="562.1" y="716.3" width="3.75" height="91.80" fill="#ffd8d8"/>
<rect x="565.8" y="716.3" width="4.25" height="91.80" fill="#f00000"/>
<rect x="570.0" y="716.3" width="3.35" height="91.80" fill="#ff9090"/>
<path d="M161,578 H56 V670 H161 M56,624.2 H3.4 V762.5 H161" fill="none" stroke="#4a4a4a" stroke-width="1.25"/>
<text x="605.6" y="579.1" font-size="20" fill="#111" textLength="32.3" lengthAdjust="spacingAndGlyphs">Syk</text>
<text x="605.9" y="674.8" font-size="20" fill="#111" textLength="30.3" lengthAdjust="spacingAndGlyphs">Lck</text>
<text x="578.3" y="753" font-size="19.3" fill="#111" textLength="94.8" lengthAdjust="spacingAndGlyphs">Caspase 7</text>
<text x="588.9" y="779.7" font-size="19.3" fill="#111" textLength="74" lengthAdjust="spacingAndGlyphs">cleaved</text>
</g>
</svg></body></html>
